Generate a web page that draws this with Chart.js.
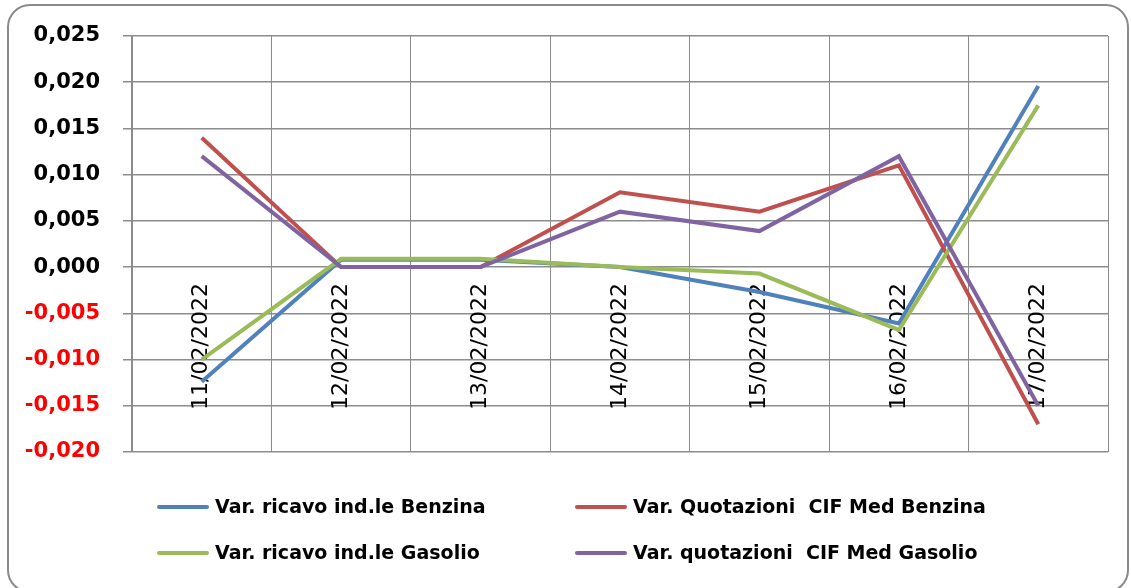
<!DOCTYPE html>
<html>
<head>
<meta charset="utf-8">
<script src="https://cdn.jsdelivr.net/npm/chart.js@4/dist/chart.umd.min.js"></script>
<style>
  html, body { margin: 0; padding: 0; background: #ffffff; }
  #wrap { width: 1131px; height: 588px; position: relative; }
</style>
</head>
<body>
<div id="wrap"><canvas id="c" width="1131" height="588"></canvas></div>
<script>
// ---- data ----
const categories = ["11/02/2022", "12/02/2022", "13/02/2022", "14/02/2022", "15/02/2022", "16/02/2022", "17/02/2022"];
const ricavoBenzina   = [-0.0124, 0.0008, 0.0008, 0.0000, -0.0027, -0.0061, 0.0196];
const quotazBenzina   = [0.0140, 0.0000, 0.0000, 0.0081, 0.0060, 0.0110, -0.0170];
const ricavoGasolio   = [-0.0100, 0.0009, 0.0009, 0.0000, -0.0007, -0.0068, 0.0175];
const quotazGasolio   = [0.0120, 0.0000, 0.0000, 0.0060, 0.0039, 0.0120, -0.0150];
const seriesNames = ["Var. ricavo ind.le Benzina", "Var. Quotazioni  CIF Med Benzina", "Var. ricavo ind.le Gasolio", "Var. quotazioni  CIF Med Gasolio"];
const yMin = -0.020, yMax = 0.025, yStep = 0.005;

const colors = ["#4F81BD", "#C0504D", "#9BBB59", "#8064A2"];
const drawOrder = [3, 2, 1, 0]; // lower = on top

const frame = {
  id: 'frame',
  beforeDraw(chart) {
    const ctx = chart.ctx;
    ctx.save();
    ctx.strokeStyle = '#8a8a8a';
    ctx.lineWidth = 2;
    ctx.beginPath();
    ctx.roundRect(8, 5, 1120, 587, 22);
    ctx.stroke();
    ctx.restore();
  }
};

const customLegend = {
  id: 'customLegend',
  afterDraw(chart) {
    const ctx = chart.ctx;
    const colX = [159, 577];
    const rowY = [507, 553];
    ctx.save();
    ctx.font = 'bold 19px "DejaVu Sans"';
    ctx.textBaseline = 'middle';
    ctx.textAlign = 'left';
    chart.data.datasets.forEach((ds, i) => {
      const x = colX[i % 2], y = rowY[Math.floor(i / 2)];
      ctx.strokeStyle = ds.borderColor;
      ctx.lineWidth = 4;
      ctx.lineCap = 'round';
      ctx.beginPath();
      ctx.moveTo(x, y);
      ctx.lineTo(x + 48, y);
      ctx.stroke();
      ctx.fillStyle = '#000000';
      ctx.fillText(ds.label, x + 56, y + 1);
    });
    ctx.restore();
  }
};

const seriesData = [ricavoBenzina, quotazBenzina, ricavoGasolio, quotazGasolio];

new Chart(document.getElementById('c'), {
  type: 'line',
  data: {
    labels: categories,
    datasets: seriesData.map((d, i) => ({
      label: seriesNames[i],
      data: d,
      borderColor: colors[i],
      backgroundColor: colors[i],
      borderWidth: 4,
      pointRadius: 0,
      tension: 0,
      fill: false,
      order: drawOrder[i]
    }))
  },
  options: {
    responsive: false,
    animation: false,
    layout: { padding: { left: 0, right: 23, top: 36, bottom: 136 } },
    plugins: {
      legend: { display: false },
      tooltip: { enabled: false },
      title: { display: false }
    },
    scales: {
      x: {
        type: 'category',
        position: { y: 0 },
        offset: true,
        grid: { display: true, offset: true, color: '#8c8c8c', lineWidth: 1, drawTicks: false },
        border: { display: false },
        ticks: {
          minRotation: 90, maxRotation: 90, autoSkip: false,
          padding: 16,
          color: '#000000',
          font: { family: '"DejaVu Sans"', size: 22 }
        }
      },
      y: {
        min: yMin, max: yMax,
        afterFit(scale) { scale.width = 132; },
        grid: { color: '#8c8c8c', lineWidth: 1.5, tickLength: 9, drawTicks: true },
        border: { display: true, color: '#8c8c8c', width: 1.5 },
        ticks: {
          stepSize: yStep,
          padding: 23,
          font: { family: '"DejaVu Sans"', size: 21, weight: 'bold' },
          color(ctx) { return ctx.tick && ctx.tick.value < -1e-9 ? '#FF0000' : '#000000'; },
          callback(value) {
            const v = Math.abs(value) < 1e-9 ? 0 : value;
            return v.toFixed(3).replace('.', ',');
          }
        }
      }
    }
  },
  plugins: [frame, customLegend]
});
</script>
</body>
</html>
